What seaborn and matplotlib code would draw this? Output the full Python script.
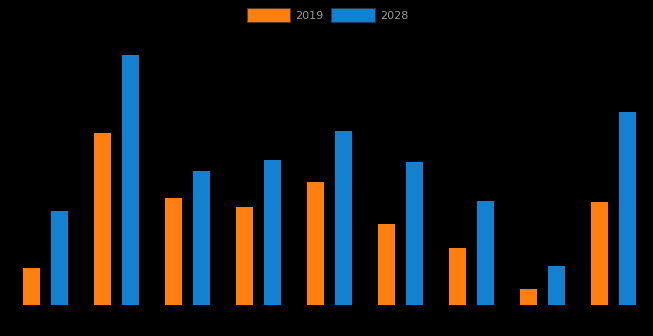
import matplotlib
matplotlib.use("Agg")
import matplotlib.pyplot as plt
import seaborn as sns
import pandas as pd

# Nine categories, two years each
categories = ["A", "B", "C", "D", "E", "F", "G", "H", "I"]
years = ["2019", "2028"]
values_2019 = [3.7, 17.2, 10.7, 9.8, 12.3, 8.1, 5.7, 1.6, 10.3]
values_2028 = [9.4, 25.0, 13.4, 14.5, 17.4, 14.3, 10.4, 3.9, 19.3]

colors = {"2019": "#ff8010", "2028": "#1480d0"}

df = pd.DataFrame({
    "category": categories * 2,
    "year": ["2019"] * len(categories) + ["2028"] * len(categories),
    "value": values_2019 + values_2028,
})

sns.set_theme(style="dark")
fig = plt.figure(figsize=(6.53, 3.36), dpi=100, facecolor="black")
ax = fig.add_axes([10 / 653, 31 / 336, 639 / 653, 275 / 336])
ax.set_facecolor("black")

sns.barplot(data=df, x="category", y="value", hue="year", hue_order=years,
            palette=colors, saturation=1, width=0.8, gap=0.4, errorbar=None,
            linewidth=0, ax=ax)

ax.set_xlim(-0.5, len(categories) - 0.5)
ax.set_ylim(0, 27.5)
ax.set_xlabel("")
ax.set_ylabel("")
ax.set_xticks(range(len(categories)))
ax.set_xticklabels([""] * len(categories))
ax.set_yticks([])
ax.tick_params(length=0)
for s in ax.spines.values():
    s.set_visible(False)
ax.grid(False)

handles, labels = ax.get_legend_handles_labels()
for h in handles:
    h.set_edgecolor("#5a3a1a" if h.get_facecolor()[0] > 0.5 else "#1a3a5a")
    h.set_linewidth(0.8)
ax.legend(handles, labels, loc="upper center", bbox_to_anchor=(0.5 - 2 / 639, 1.0 + 26 / 275),
          ncol=2, frameon=False, fontsize=8, handlelength=3.9, handleheight=1.45,
          handletextpad=0.45, columnspacing=0.7, labelcolor="#999999",
          borderaxespad=0)

fig.savefig("out.png", dpi=100, facecolor="black")
